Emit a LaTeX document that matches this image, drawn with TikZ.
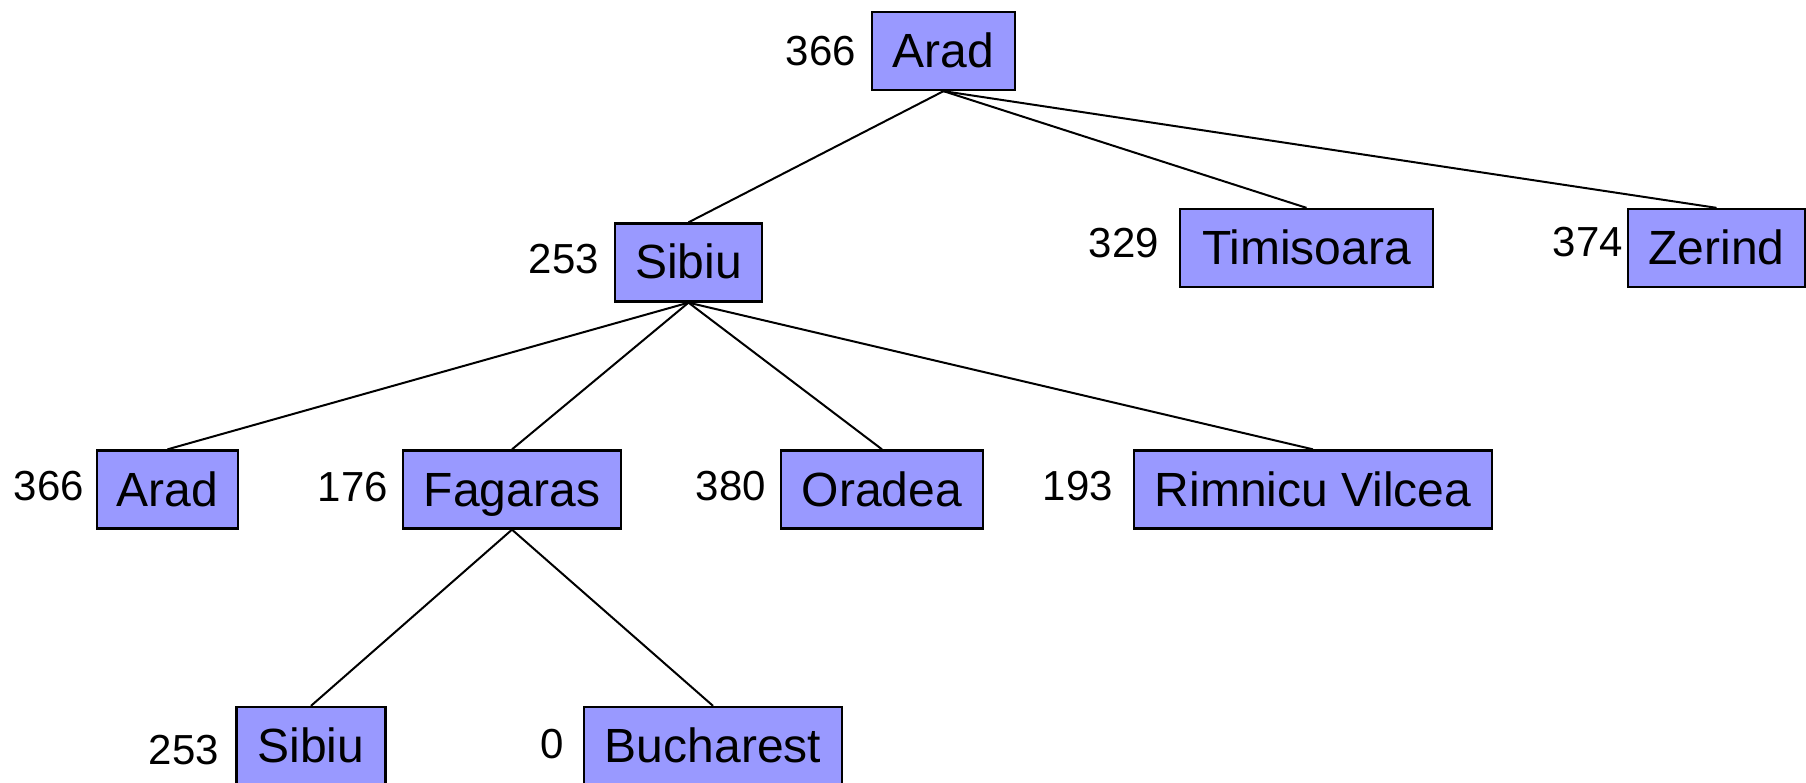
\documentclass[tikz,border=0pt]{standalone}
\usepackage{fontspec}
\setmainfont{Liberation Sans}
\definecolor{boxfill}{RGB}{153,153,255}
\begin{document}
\begin{tikzpicture}[x=1pt,y=-1pt,
  city/.style={draw=black, line width=2.3pt, fill=boxfill, inner xsep=6pt, inner ysep=0pt,
    minimum height=78pt, text height=34pt, text depth=1pt, font=\fontsize{48}{52}\selectfont},
  hval/.style={anchor=base east, inner sep=0pt, font=\fontsize{42}{46}\selectfont},
  edge/.style={line width=2pt}]
\useasboundingbox (0,0) rectangle (1806,783);
% nodes
\node[city, minimum width=143pt] (root) at (943.5,51) {Arad};
\node[city, minimum width=147pt] (s1) at (688.5,262.5) {Sibiu};
\node[city, minimum width=253pt] (t) at (1306.5,248) {Timisoara};
\node[city, minimum width=177pt] (z) at (1716.5,248) {Zerind};
\node[city, minimum width=141pt] (a2) at (167.5,489.5) {Arad};
\node[city, minimum width=218pt] (f) at (512,489.5) {Fagaras};
\node[city, minimum width=202pt] (o) at (882,489.5) {Oradea};
\node[city, minimum width=358pt] (r) at (1313,489.5) {Rimnicu Vilcea};
\node[city, minimum width=149pt] (s3) at (311,746) {Sibiu};
\node[city, minimum width=258pt] (b) at (713,746) {Bucharest};
% heuristic values
\node[hval] (hroot) at (856,66) {366};
\node[hval] (hs1) at (599,274) {253};
\node[hval] (ht) at (1159,258) {329};
\node[hval] (hz) at (1623,257) {374};
\node[hval] (ha2) at (84,500) {366};
\node[hval] (hf) at (388,501) {176};
\node[hval] (ho) at (766,500) {380};
\node[hval] (hr) at (1113,500) {193};
\node[hval] (hs3) at (219,764) {253};
\node[hval] (hb) at (564,758) {0};
% edges
\draw[edge] (root.south) -- (s1.north);
\draw[edge] (root.south) -- (t.north);
\draw[edge] (root.south) -- (z.north);
\draw[edge] (s1.south) -- (a2.north);
\draw[edge] (s1.south) -- (f.north);
\draw[edge] (s1.south) -- (o.north);
\draw[edge] (s1.south) -- (r.north);
\draw[edge] (f.south) -- (s3.north);
\draw[edge] (f.south) -- (b.north);
\end{tikzpicture}
\end{document}
